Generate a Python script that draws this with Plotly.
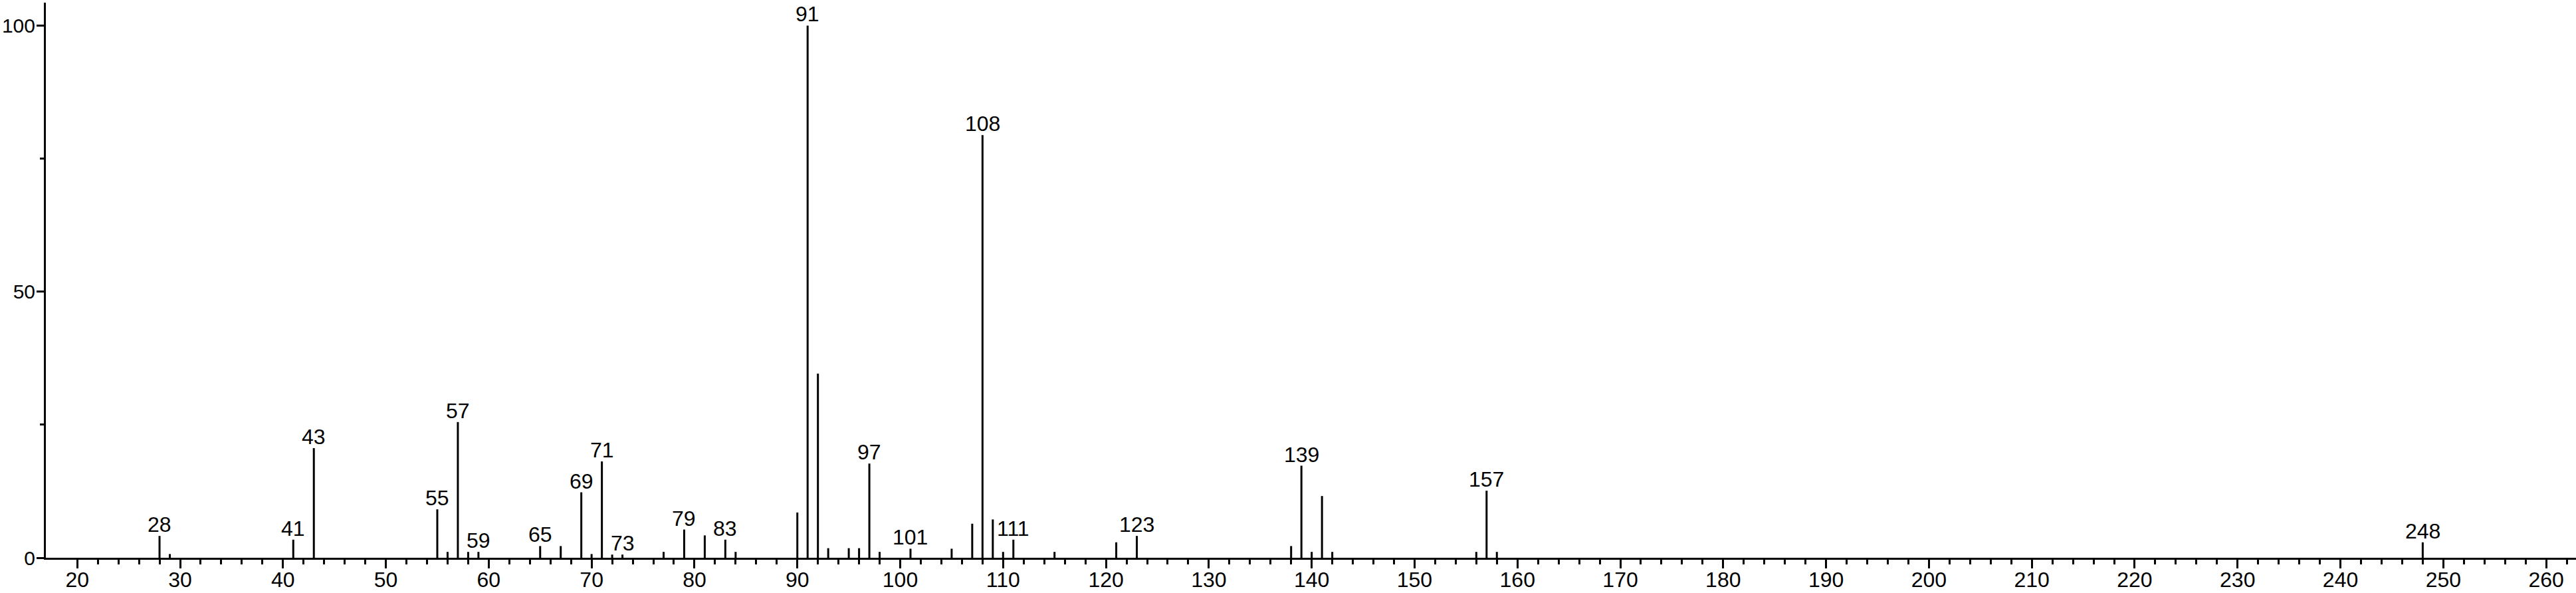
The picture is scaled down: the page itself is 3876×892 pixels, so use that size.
import plotly.graph_objects as go

# m/z values and relative intensities
mz = [28, 29, 41, 43, 55, 56, 57, 58, 59, 65, 67, 69, 70, 71, 72, 73, 77, 79, 81, 83,
      84, 90, 91, 92, 93, 95, 96, 97, 98, 101, 105, 107, 108, 109, 110, 111, 115, 121,
      123, 138, 139, 140, 141, 142, 156, 157, 158, 248]
intensity = [4.1, 0.7, 3.4, 20.6, 9.1, 1.1, 25.5, 1.1, 1.1, 2.2, 2.2, 12.3, 0.7, 18.1, 0.6,
             0.6, 1.1, 5.3, 4.2, 3.4, 1.1, 8.5, 100.0, 34.6, 1.8, 1.8, 1.8, 17.7, 1.1, 1.7,
             1.7, 6.4, 79.4, 7.2, 1.1, 3.4, 1.1, 2.9, 4.1, 2.2, 17.3, 1.1, 11.6, 1.1, 1.1,
             12.6, 1.1, 2.9]
labeled_mz = [28, 41, 43, 55, 57, 59, 65, 69, 71, 73, 79, 83, 91, 97, 101, 108, 111,
              123, 139, 157, 248]

x_major = list(range(20, 270, 10))
x_minor = [v for v in range(22, 264, 2) if v % 10 != 0]

FONT = "Liberation Sans, Arial, sans-serif"

xs, ys = [], []
for m, v in zip(mz, intensity):
    xs += [m, m, None]
    ys += [0, v, None]

fig = go.Figure()
fig.add_trace(go.Scatter(x=xs, y=ys, mode="lines",
                         line=dict(color="black", width=3),
                         hoverinfo="skip", showlegend=False))

lookup = dict(zip(mz, intensity))
for m in labeled_mz:
    fig.add_annotation(x=m, y=lookup[m], text=str(m), showarrow=False,
                       xanchor="center", yanchor="bottom", yshift=-3,
                       font=dict(family=FONT, size=32, color="black"))

fig.update_layout(
    width=3876, height=892,
    margin=dict(l=69, r=0, t=4, b=53),
    paper_bgcolor="white", plot_bgcolor="white",
    showlegend=False,
    font=dict(family=FONT, size=33, color="black"),
    xaxis=dict(range=[16.95, 262.9], showgrid=False, zeroline=False, automargin=False,
               showline=True, linecolor="black", linewidth=3,
               tickmode="array", tickvals=x_major, ticktext=[str(v) for v in x_major],
               ticks="outside", ticklen=13, tickwidth=3, tickcolor="black",
               ticklabelstandoff=-10,
               tickfont=dict(family=FONT, size=32, color="black"),
               minor=dict(tickmode="array", tickvals=x_minor, ticks="outside",
                          ticklen=7, tickwidth=3, tickcolor="black", showgrid=False)),
    yaxis=dict(range=[0, 104.3], showgrid=False, zeroline=False, automargin=False,
               showline=True, linecolor="black", linewidth=3,
               tickmode="array", tickvals=[0, 50, 100], ticktext=["0", "50", "100"],
               ticks="outside", ticklen=11, tickwidth=3, tickcolor="black",
               ticklabelstandoff=-4,
               tickfont=dict(family=FONT, size=30, color="black"),
               minor=dict(tickmode="array", tickvals=[25, 75], ticks="outside",
                          ticklen=6, tickwidth=3, tickcolor="black", showgrid=False)),
)

fig.write_html("out.html", config={"displayModeBar": False},
               post_script="document.body.style.margin='0px';document.body.style.padding='0px';")
